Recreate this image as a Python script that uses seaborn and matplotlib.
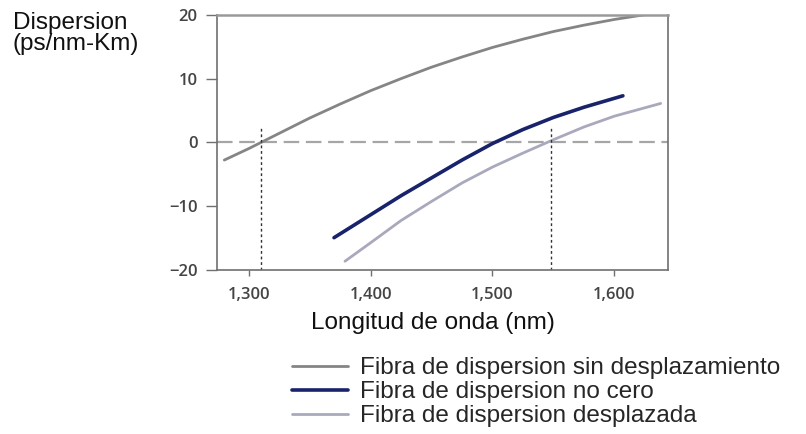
import pandas as pd
import matplotlib.pyplot as plt
import matplotlib.ticker as mticker
import seaborn as sns

# wavelength (nm) and dispersion (ps/nm-km)
nm_std = [1280, 1300, 1325, 1350, 1375, 1400, 1425, 1450, 1475, 1500,
          1525, 1550, 1575, 1600, 1630]
d_std = [-2.8, -1.0, 1.4, 3.8, 6.0, 8.1, 10.0, 11.8, 13.4, 14.9,
         16.2, 17.4, 18.4, 19.3, 20.2]

nm_nz = [1370, 1400, 1425, 1450, 1475, 1500, 1525, 1550, 1575, 1607]
d_nz = [-15.0, -11.4, -8.4, -5.6, -2.8, -0.2, 2.0, 3.9, 5.5, 7.3]

nm_ds = [1379, 1400, 1425, 1450, 1475, 1500, 1525, 1550, 1575, 1600, 1638]
d_ds = [-18.7, -15.8, -12.3, -9.3, -6.4, -3.9, -1.7, 0.4, 2.4, 4.1, 6.1]

zero_nm = [1310, 1548]
labels = ["Fibra de dispersion sin desplazamiento",
          "Fibra de dispersion no cero",
          "Fibra de dispersion desplazada"]
x_ticks = [1300, 1400, 1500, 1600]
y_ticks = [-20, -10, 0, 10, 20]

sns.set_style("white")
plt.rcParams['font.family'] = ['Liberation Sans', 'DejaVu Sans']

fig = plt.figure(figsize=(8.06, 4.34), dpi=100)
ax = fig.add_axes([217 / 806, 1 - 269.5 / 434, 451 / 806, 254.5 / 434])

series = [
    (nm_std, d_std, "#858585", 2.0),
    (nm_nz, d_nz, "#18236b", 2.6),
    (nm_ds, d_ds, "#a9a9bd", 2.0),
]
for (xs, ys, col, lw), lab in zip(series, labels):
    df = pd.DataFrame({"nm": xs, "D": ys})
    sns.lineplot(data=df, x="nm", y="D", ax=ax, color=col, linewidth=lw,
                 label=lab, sort=True)

# zero-dispersion guides
ax.axhline(0, color="#a6a6a6", linewidth=1.6, linestyle=(0, (7, 3)), zorder=0)
ax.vlines(zero_nm, -20, 2.5, colors="#333333", linewidth=1.0,
          linestyles=(0, (2, 2)))

ax.set_xlim(1274, 1644)
ax.set_ylim(-20, 20)
ax.set_xticks(x_ticks)
ax.set_yticks(y_ticks)
ax.xaxis.set_major_formatter(mticker.FuncFormatter(lambda v, p: f"{v:,.0f}"))

for side in ["left", "right", "bottom"]:
    ax.spines[side].set_color("#707070")
    ax.spines[side].set_linewidth(1.2)
ax.spines["top"].set_color("#9a9a9a")
ax.spines["top"].set_linewidth(1.8)

ax.tick_params(axis="x", direction="out", length=4.5, width=1, color="#707070",
               pad=8, bottom=True)
ax.tick_params(axis="y", direction="out", length=8, width=1, color="#707070",
               pad=6, left=True)
for t in ax.get_xticklabels() + ax.get_yticklabels():
    t.set_family(["Open Sans", "DejaVu Sans"])
    t.set_fontsize(12)
    t.set_fontweight("semibold")
    t.set_color("#444444")

ax.set_xlabel("Longitud de onda (nm)", fontsize=17.5, color="#111111")
ax.xaxis.set_label_coords((433 - 217) / 451, -(312 - 269.5) / 254.5)
ax.set_ylabel("")

fig.text(13 / 806, 1 - 12 / 434, "Dispersion\n(ps/nm-Km)", fontsize=17.5,
         color="#111111", ha="left", va="top", linespacing=0.95)

ax.legend(loc="upper left", bbox_to_anchor=(292 / 806, 1 - 357 / 434),
          bbox_transform=fig.transFigure, frameon=False, fontsize=17.5,
          handlelength=2.3, handletextpad=0.5, labelspacing=0.09,
          borderpad=0, borderaxespad=0)

plt.savefig("out.png", dpi=100)
